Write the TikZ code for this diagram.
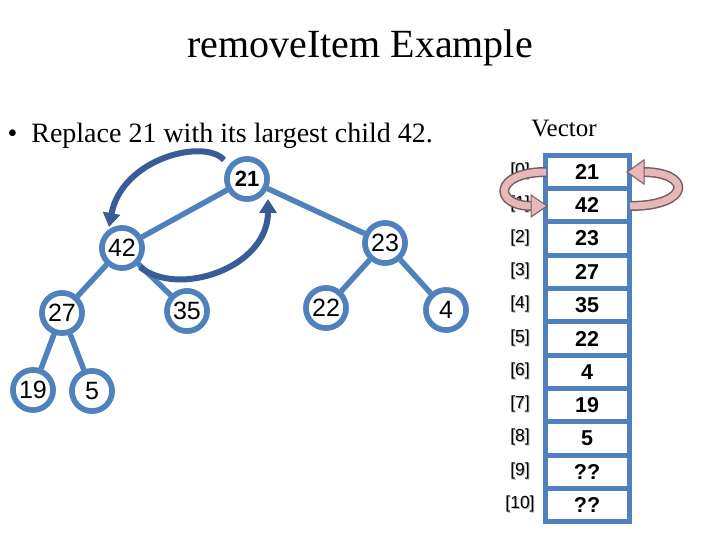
\documentclass[tikz,border=0pt]{standalone}
\usepackage{fontspec}
\setmainfont{Liberation Serif}
\newfontfamily\arialf{Liberation Sans}
\usetikzlibrary{arrows.meta}
\definecolor{nodeblue}{RGB}{79,129,189}
\definecolor{arrblue}{RGB}{56,93,150}
\definecolor{pinkf}{RGB}{230,185,184}
\definecolor{pinkd}{RGB}{120,90,100}
\begin{document}
\begin{tikzpicture}[x=1pt,y=-1pt,
  tnode/.style={circle,draw=nodeblue,line width=5.5pt,fill=white,minimum size=40pt,inner sep=0pt,font=\arialf\fontsize{25}{27}\selectfont},
  tedge/.style={draw=nodeblue,line width=5.5pt},
  cell/.style={draw=nodeblue,line width=5pt,fill=white,minimum width=84pt,minimum height=33.3pt,inner sep=0pt,font=\arialf\bfseries\fontsize{21.5}{23}\selectfont},
  idx/.style={font=\arialf\fontsize{17.5}{19}\selectfont,inner sep=0pt},
  swaparrow/.style={draw=arrblue,line width=6pt,-{Triangle[length=14pt,width=17pt]}}
]
\useasboundingbox (0,0) rectangle (720,540);
\node[font=\fontsize{40}{44}\selectfont] (title) at (360,48) {removeItem Example};
\node[font=\fontsize{28}{30}\selectfont,anchor=west] (bullet) at (4,136) {\textbullet\ \ Replace 21 with its largest child 42.};
\node[font=\fontsize{25}{27}\selectfont] (vlabel) at (564,129) {Vector};

% tree
\node[tnode,font=\arialf\bfseries\fontsize{22}{24}\selectfont] (n21) at (247,179) {21};
\node[tnode] (n42) at (122,248) {42};
\node[tnode] (n23) at (385,243) {23};
\node[tnode] (n27) at (62,313) {27};
\node[tnode] (n35) at (187,311) {35};
\node[tnode] (n22) at (326,308) {22};
\node[tnode] (n4) at (446,310) {4};
\node[tnode] (n19) at (33,390) {19};
\node[tnode] (n5) at (92,391) {5};
\foreach \a/\b in {n21/n42,n21/n23,n42/n27,n42/n35,n23/n22,n23/n4,n27/n19,n27/n5}
  \path[tedge] (\a) -- (\b);
% redraw nodes on top of the edges
\node[tnode,font=\arialf\bfseries\fontsize{22}{24}\selectfont] at (n21) {21};
\node[tnode] at (n42) {42};
\node[tnode] at (n23) {23};
\node[tnode] at (n27) {27};
\node[tnode] at (n35) {35};
\node[tnode] at (n22) {22};
\node[tnode] at (n4) {4};
\node[tnode] at (n19) {19};
\node[tnode] at (n5) {5};

% swap arrows in tree
\coordinate (a1s) at (224,160);
\coordinate (a1e) at (109,227);
\coordinate (a2s) at (140,267);
\coordinate (a2e) at (268,199);
\draw[swaparrow] (a1s) .. controls (205,138) and (122,158) .. (a1e);
\draw[swaparrow] (a2s) .. controls (178,298) and (268,268) .. (a2e);

% vector
\foreach \i/\v in {0/21,1/42,2/23,3/27,4/35,5/22,6/4,7/19,8/5,9/??,10/??}{
  \node[cell] (c\i) at (587,{172+33.3*\i}) {\v};
  \node[idx,text=gray!60] at (521,{172+33.3*\i}) {[\i]};
  \node[idx] (i\i) at (520,{171+33.3*\i}) {[\i]};
}
% pink swap arrows
\coordinate (p1s) at (546,172);
\coordinate (p1e) at (547,206);
\coordinate (p2s) at (630,206);
\coordinate (p2e) at (627,172);
\draw[pinkd,line width=10pt] (p1s) .. controls (493,172) and (493,206) .. (532,206);
\draw[pinkf,line width=7pt] (p1s) .. controls (493,172) and (493,206) .. (532,206);
\filldraw[draw=pinkd,fill=pinkf,line width=1pt] (p1e) -- (531,195) -- (531,217) -- cycle;
\draw[pinkd,line width=10pt] (p2s) .. controls (692,206) and (692,172) .. (643,172);
\draw[pinkf,line width=7pt] (p2s) .. controls (692,206) and (692,172) .. (643,172);
\filldraw[draw=pinkd,fill=pinkf,line width=1pt] (p2e) -- (644,160) -- (644,184) -- cycle;
\end{tikzpicture}
\end{document}
